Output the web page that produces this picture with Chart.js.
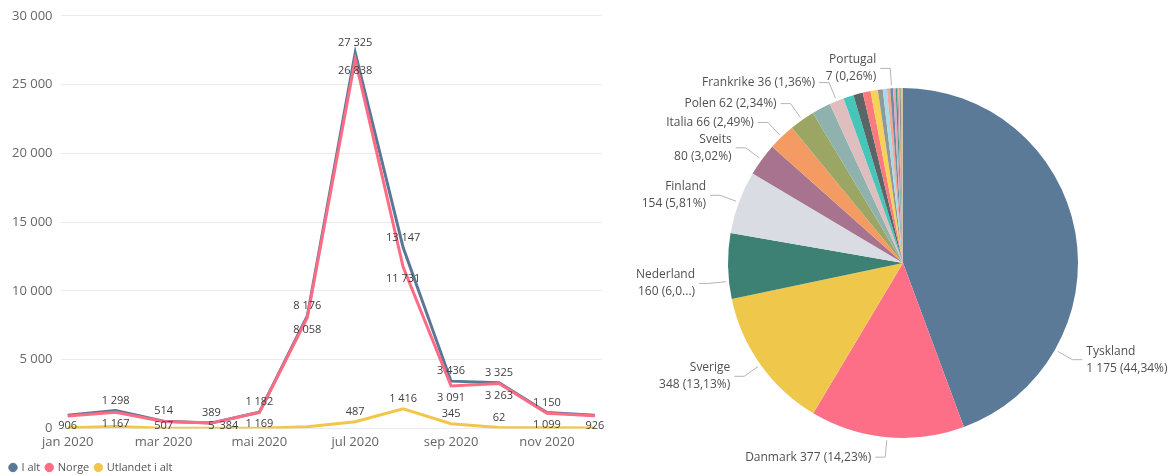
<!DOCTYPE html>
<html>
<head>
<meta charset="utf-8">
<script src="https://cdn.jsdelivr.net/npm/chart.js@4.4.1/dist/chart.umd.min.js"></script>
<style>
  html, body { margin: 0; padding: 0; background: #fff; }
  #wrap { position: relative; width: 1175px; height: 475px; overflow: hidden; }
  #lineBox { position: absolute; left: 0; top: 0; width: 610px; height: 475px; }
  #pieBox { position: absolute; left: 620px; top: 0; width: 555px; height: 475px; }
</style>
</head>
<body>
<div id="wrap">
  <div id="lineBox"><canvas id="lineChart"></canvas></div>
  <div id="pieBox"><canvas id="pieChart"></canvas></div>
</div>
<script>
// Overnattinger per måned (linje) og fordeling per land (kake)
const MONTHS = ['jan 2020', 'feb 2020', 'mar 2020', 'apr 2020', 'mai 2020', 'jun 2020',
  'jul 2020', 'aug 2020', 'sep 2020', 'okt 2020', 'nov 2020', 'des 2020'];
const I_ALT = [952, 1298, 514, 389, 1182, 8176, 27325, 13147, 3436, 3325, 1150, 960];
const NORGE = [906, 1167, 507, 384, 1169, 8058, 26838, 11731, 3091, 3263, 1099, 926];
const UTLANDET = [46, 131, 7, 5, 13, 118, 487, 1416, 345, 62, 51, 34];
const Y_TICKS = [0, 5000, 10000, 15000, 20000, 25000, 30000];
const X_TICKS = [0, 2, 4, 6, 8, 10];

// hvilke datapunkter som har synlig verdi
const SHOW_I_ALT = [false, true, true, true, true, true, true, true, true, true, true, false];
const SHOW_NORGE = [true, true, true, true, true, true, true, true, true, true, true, true];
const SHOW_UTLANDET = [false, false, false, true, false, false, true, true, true, true, false, false];

const COUNTRIES = ['Tyskland', 'Danmark', 'Sverige', 'Nederland', 'Finland', 'Sveits', 'Italia', 'Polen',
  'Storbritannia', 'Frankrike', 'Spania', 'USA', 'Østerrike', 'Belgia', 'Island', 'Litauen',
  'Estland', 'Portugal', 'Ungarn', 'Latvia', 'Russland', 'Kina', 'Australia', 'Canada',
  'Irland', 'Hellas', 'Japan', 'Øvrige'];
const COUNTS = [1175, 377, 348, 160, 154, 80, 66, 62, 46, 36, 25, 23, 19, 18, 12, 10,
  8, 7, 6, 4, 3, 3, 2, 2, 1, 1, 1, 1];
const PIE_LABELED = ['Tyskland', 'Danmark', 'Sverige', 'Nederland', 'Finland', 'Sveits', 'Italia', 'Polen', 'Frankrike', 'Portugal'];
const PIE_ONE_LINE = ['Danmark', 'Italia', 'Polen', 'Frankrike'];
const PIE_ANCHOR = { Tyskland: 0.75, Nederland: 0.27 };

const COLORS = { iAlt: '#587896', norge: '#FD6B85', utland: '#F2C64A' };
const PIE_COLORS = ['#5A7A98', '#FD6F87', '#EFC84B', '#3C8174', '#D9DDE3', '#A7738E', '#F49B64', '#9BA664',
  '#8FB2AE', '#DFBEC0', '#45C6B8', '#5B6466', '#FB7A7E', '#F6D257', '#8E999C', '#A6D9E9',
  '#F3A792', '#6B8BA8', '#E7A5B8', '#3E9A8B', '#C18FA5', '#F7B37C', '#576372', '#B6C07A',
  '#7FC6C0', '#EC8F95', '#94A3B5', '#D6B75A'];

const FONT = '"Open Sans", "Noto Sans", sans-serif';

function fmt(v) {
  return String(v).replace(/\B(?=(\d{3})+(?!\d))/g, ' ');
}

const toPoints = (arr) => arr.map((v, i) => ({ x: i, y: v }));

// verdietiketter: over/under punktet, flyttes hvis de kolliderer
const lineLabelPlugin = {
  id: 'lineLabels',
  afterDatasetsDraw(chart) {
    const { ctx, chartArea } = chart;
    const order = [
      { index: 0, show: SHOW_I_ALT, dy: -10 },
      { index: 2, show: SHOW_UTLANDET, dy: -10 },
      { index: 1, show: SHOW_NORGE, dy: 12 }
    ];
    const placed = [];
    const hits = (b) => placed.some((p) => b.l < p.r && b.r > p.l && b.t < p.b && b.b > p.t);
    ctx.save();
    ctx.font = `11px ${FONT}`;
    ctx.fillStyle = '#404040';
    ctx.textAlign = 'center';
    ctx.textBaseline = 'middle';
    order.forEach(({ index, show, dy }) => {
      const meta = chart.getDatasetMeta(index);
      const data = chart.data.datasets[index].data;
      meta.data.forEach((pt, j) => {
        if (!show[j]) return;
        const text = fmt(data[j].y);
        const w = ctx.measureText(text).width;
        const clampY = (y) => Math.min(y, chartArea.bottom - 3);
        const tries = [
          [0, clampY(pt.y + dy)],
          [0, clampY(pt.y - dy * 1.2)],
          [w / 2 + 8, clampY(pt.y + dy)],
          [-(w / 2 + 8), clampY(pt.y + dy)]
        ];
        for (const [dx, y] of tries) {
          const box = { l: pt.x + dx - w / 2, r: pt.x + dx + w / 2, t: y - 6, b: y + 6 };
          if (!hits(box)) {
            placed.push(box);
            ctx.fillText(text, pt.x + dx, y);
            break;
          }
        }
      });
    });
    ctx.restore();
  }
};

new Chart(document.getElementById('lineChart'), {
  type: 'line',
  data: {
    datasets: [
      { label: 'I alt', data: toPoints(I_ALT), borderColor: COLORS.iAlt, backgroundColor: COLORS.iAlt, order: 2 },
      { label: 'Norge', data: toPoints(NORGE), borderColor: COLORS.norge, backgroundColor: COLORS.norge, order: 1 },
      { label: 'Utlandet i alt', data: toPoints(UTLANDET), borderColor: COLORS.utland, backgroundColor: COLORS.utland, order: 0 }
    ]
  },
  options: {
    responsive: true,
    maintainAspectRatio: false,
    animation: false,
    layout: { padding: { left: 4, right: 8, top: 8, bottom: -8 } },
    elements: {
      line: { borderWidth: 3, tension: 0 },
      point: { radius: 0, hoverRadius: 0 }
    },
    plugins: {
      tooltip: { enabled: false },
      legend: {
        position: 'bottom',
        align: 'start',
        labels: {
          usePointStyle: true,
          pointStyle: 'circle',
          boxWidth: 6,
          boxHeight: 6,
          padding: 6,
          color: '#555',
          font: { family: FONT, size: 11 },
          sort: (a, b) => a.datasetIndex - b.datasetIndex
        }
      }
    },
    scales: {
      x: {
        type: 'linear',
        min: -0.15,
        max: 11.15,
        afterBuildTicks: (scale) => { scale.ticks = X_TICKS.map((v) => ({ value: v })); },
        ticks: {
          autoSkip: false,
          maxRotation: 0,
          color: '#666',
          font: { family: FONT, size: 13 },
          padding: 6,
          callback: (v) => MONTHS[v] || ''
        },
        grid: { display: false, drawTicks: false, tickLength: 0 },
        border: { display: false }
      },
      y: {
        min: 0,
        max: 30000,
        afterBuildTicks: (scale) => { scale.ticks = Y_TICKS.map((v) => ({ value: v })); },
        ticks: {
          color: '#666',
          font: { family: FONT, size: 13 },
          padding: 8,
          callback: (v) => fmt(v)
        },
        grid: { color: '#E9EAF0', drawTicks: false },
        border: { display: false }
      }
    }
  },
  plugins: [lineLabelPlugin]
});

// etiketter med hjelpelinjer utenfor kaken
const pieLabelPlugin = {
  id: 'pieLabels',
  afterDatasetsDraw(chart) {
    const { ctx } = chart;
    const meta = chart.getDatasetMeta(0);
    const total = COUNTS.reduce((a, b) => a + b, 0);
    const minX = 14;
    ctx.save();
    ctx.font = `12px ${FONT}`;
    ctx.textBaseline = 'middle';
    meta.data.forEach((arc, i) => {
      const name = COUNTRIES[i];
      if (!PIE_LABELED.includes(name)) return;
      const frac = PIE_ANCHOR[name] ?? 0.5;
      const a = arc.startAngle + (arc.endAngle - arc.startAngle) * frac;
      const r = arc.outerRadius;
      const x1 = arc.x + Math.cos(a) * (r + 3);
      const y1 = arc.y + Math.sin(a) * (r + 3);
      const x2 = arc.x + Math.cos(a) * (r + 20);
      const y2 = arc.y + Math.sin(a) * (r + 20);
      const right = Math.cos(a) >= 0;
      const x3 = x2 + (right ? 10 : -10);
      ctx.strokeStyle = '#B5B5B5';
      ctx.lineWidth = 1;
      ctx.beginPath();
      ctx.moveTo(x1, y1);
      ctx.lineTo(x2, y2);
      ctx.lineTo(x3, y2);
      ctx.stroke();

      const pct = (COUNTS[i] / total * 100).toFixed(2).replace('.', ',');
      const value = `${fmt(COUNTS[i])} (${pct}%)`;
      const lines = PIE_ONE_LINE.includes(name) ? [`${name} ${value}`] : [name, value];
      const tx = x3 + (right ? 4 : -4);
      ctx.textAlign = right ? 'left' : 'right';
      ctx.fillStyle = '#505050';
      lines.forEach((line, k) => {
        let s = line;
        if (!right && s.endsWith(')') && ctx.measureText(s).width > tx - minX) {
          let body = s.slice(0, -1);
          while (body.length && ctx.measureText(body + '...)').width > tx - minX) body = body.slice(0, -1);
          s = body + '...)';
        }
        ctx.fillText(s, tx, y2 + (k - (lines.length - 1) / 2) * 17);
      });
    });
    ctx.restore();
  }
};

new Chart(document.getElementById('pieChart'), {
  type: 'pie',
  data: {
    labels: COUNTRIES,
    datasets: [{ data: COUNTS, backgroundColor: PIE_COLORS, borderWidth: 0 }]
  },
  options: {
    responsive: true,
    maintainAspectRatio: false,
    animation: false,
    layout: { padding: { left: 11, right: 0, top: 88, bottom: 37 } },
    plugins: {
      legend: { display: false },
      tooltip: { enabled: false }
    }
  },
  plugins: [pieLabelPlugin]
});
</script>
</body>
</html>
